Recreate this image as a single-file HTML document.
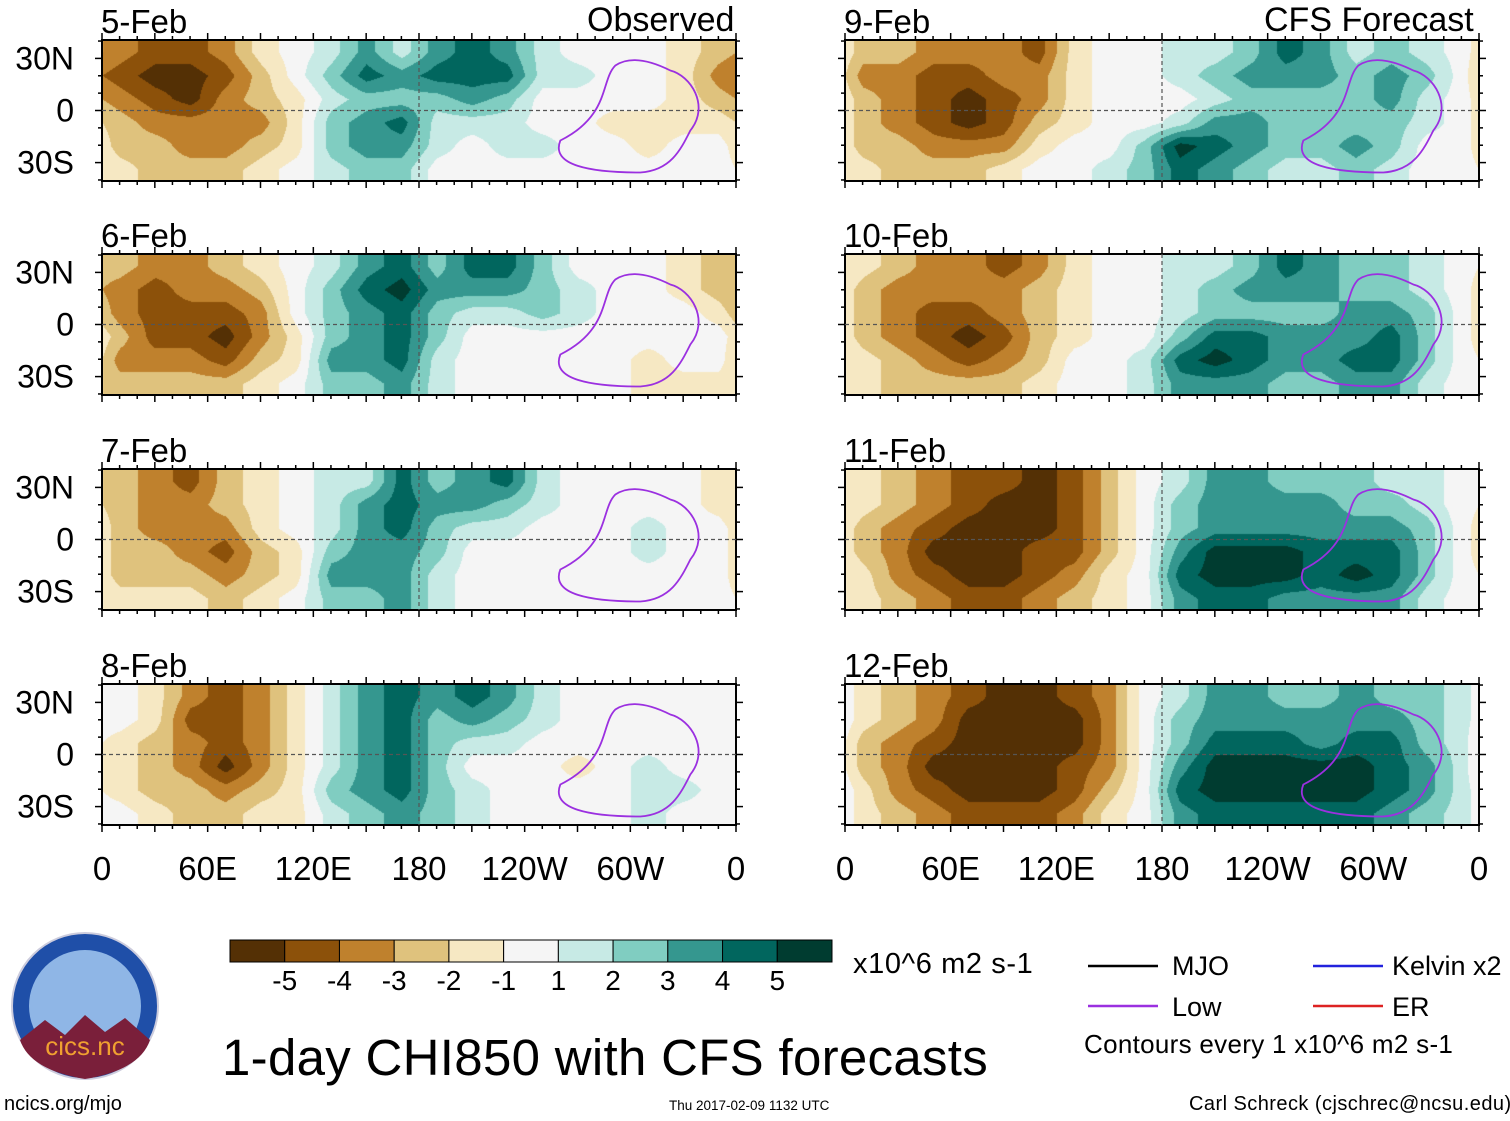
<!DOCTYPE html>
<html><head><meta charset="utf-8">
<style>
body{margin:0;background:#fff;width:1510px;height:1121px;overflow:hidden;position:relative;font-family:"Liberation Sans",sans-serif;}
.t{position:absolute;white-space:nowrap;color:#000;line-height:1;}
canvas{position:absolute;}
svg{position:absolute;left:0;top:0;}
</style></head><body>
<script>
const colors=["#543005","#8c510a","#bf812d","#dfc27d","#f6e8c3","#f5f5f5","#c7eae5","#80cdc1","#35978f","#01665e","#003c30"];
const cbLabels=["-5","-4","-3","-2","-1","1","2","3","4","5"];
const xTickLabels=["0","60E","120E","180","120W","60W","0"];
const yTickLabels=["30N","0","30S"];
const panelTitles=["5-Feb","6-Feb","7-Feb","8-Feb","9-Feb","10-Feb","11-Feb","12-Feb"];
const feb5=[[-3,-4,-4,-3,-1,0,1,3,1,3,4,3,1,0,0,0,-1,-2],[-4,-5,-5,-4,-2,0,2,4,3,4,4,4,1,1,0,0,-1,-3],[-3,-4,-5,-3,-2,-1,1,2,2,2,3,2,0,0,0,0,-1,-2],[-2,-3,-3,-3,-3,-1,2,3,4,1,1,1,0,0,-1,-1,-1,-1],[-2,-2,-3,-3,-2,-1,2,3,3,1,0,1,1,0,0,-1,0,0],[-1,-2,-2,-2,-1,0,1,2,2,0,0,0,0,0,0,0,0,0]];
const feb6=[[-2,-3,-3,-2,-1,0,1,3,4,2,4,4,2,0,0,0,-1,-2],[-3,-4,-3,-3,-2,0,2,4,5,3,3,3,2,1,0,0,-1,-2],[-3,-4,-4,-4,-3,0,2,3,4,2,1,1,2,1,0,0,0,-1],[-2,-4,-4,-5,-3,-1,2,3,4,2,0,0,0,0,0,0,0,0],[-3,-3,-3,-4,-2,-1,3,3,4,1,0,0,0,0,0,-1,0,0],[-2,-2,-2,-2,-1,0,2,2,3,1,0,0,0,0,0,-1,-1,-1]];
const feb7=[[-2,-3,-4,-2,-1,0,1,1,4,2,3,4,1,0,0,0,0,-1],[-2,-3,-3,-2,-1,0,1,3,4,3,3,2,1,0,0,0,0,-1],[-2,-3,-3,-3,-1,0,1,3,4,2,1,1,0,0,0,1,0,0],[-2,-2,-3,-4,-2,-1,2,3,3,2,0,0,0,0,0,1,0,0],[-2,-2,-2,-3,-2,-1,3,3,3,1,0,0,0,0,0,0,0,0],[-1,-1,-1,-2,-1,0,2,2,3,1,0,0,0,0,0,0,0,0]];
const feb8=[[0,-1,-3,-4,-3,-1,1,3,4,3,4,3,1,0,0,0,0,0],[0,-1,-4,-4,-3,-1,1,3,4,2,3,2,1,0,0,0,0,0],[-1,-2,-3,-4,-3,-1,1,3,4,2,1,1,0,0,0,0,0,0],[-1,-2,-3,-5,-3,-1,1,3,4,2,0,0,0,-1,0,1,0,0],[-1,-2,-2,-3,-2,-1,2,3,4,2,1,0,0,0,0,1,1,0],[0,-1,-2,-2,-1,-1,1,2,3,2,1,0,0,0,0,1,0,0]];
const feb9=[[-2,-2,-3,-3,-3,-4,-1,0,0,1,1,2,4,3,1,2,1,0],[-3,-3,-4,-4,-3,-3,-1,0,0,1,2,3,3,3,2,3,2,0],[-2,-3,-4,-5,-4,-3,-1,0,0,0,1,2,2,2,2,3,1,0],[-2,-3,-4,-5,-4,-2,-1,0,0,1,3,3,2,2,2,2,1,0],[-2,-2,-3,-3,-3,-1,0,0,2,5,4,3,2,2,3,2,0,0],[-1,-2,-2,-2,-1,0,0,1,2,4,3,2,1,1,2,1,0,0]];
const feb10=[[-1,-2,-3,-3,-4,-3,-1,0,0,1,1,2,4,3,2,2,1,0],[-2,-3,-3,-3,-3,-2,-1,0,0,1,2,3,3,3,2,2,1,0],[-2,-3,-4,-4,-3,-2,-1,0,0,1,2,2,2,2,3,3,2,0],[-2,-3,-4,-5,-4,-2,-1,0,0,2,4,4,3,3,3,4,2,0],[-1,-2,-3,-4,-3,-2,0,0,1,4,5,4,3,3,4,4,2,0],[-1,-2,-2,-2,-2,-1,0,0,1,3,3,3,2,2,3,3,1,0]];
const feb11=[[-1,-2,-3,-4,-4,-5,-4,-2,0,1,3,3,2,2,2,1,1,0],[-1,-2,-3,-4,-5,-5,-4,-2,0,2,3,3,3,3,2,2,1,0],[-2,-3,-4,-5,-5,-5,-4,-2,0,2,3,3,3,3,3,3,2,0],[-2,-3,-5,-5,-5,-4,-4,-2,0,3,5,5,5,4,4,4,2,0],[-1,-3,-4,-5,-5,-4,-3,-1,0,4,5,5,5,4,5,4,2,0],[-1,-2,-3,-4,-4,-3,-2,-1,0,3,4,4,3,3,3,3,1,0]];
const feb12=[[-1,-2,-3,-4,-5,-5,-4,-3,0,1,3,3,2,2,3,2,2,1],[-1,-2,-3,-5,-5,-5,-5,-3,0,2,3,3,3,3,3,3,2,1],[-2,-3,-4,-5,-5,-5,-5,-3,0,2,4,4,4,3,4,4,2,1],[-2,-3,-5,-5,-5,-5,-4,-3,0,3,5,5,5,5,5,4,3,1],[-1,-3,-4,-5,-5,-5,-4,-2,0,4,5,5,5,5,5,4,3,1],[-1,-2,-3,-4,-4,-4,-3,-1,0,3,4,4,4,4,4,3,2,1]];
const panelData=[feb5,feb6,feb7,feb8,feb9,feb10,feb11,feb12];
</script>
<svg id="ov" width="1510" height="1121"></svg>
<div class="t" style="left:587px;top:3px;font-size:34px">Observed</div>
<div class="t" style="left:1264px;top:3px;font-size:34px">CFS Forecast</div>
<div class="t" style="left:853px;top:950px;font-size:29px;letter-spacing:0.6px">x10^6 m2 s-1</div>
<div class="t" style="left:222px;top:1032px;font-size:51px;letter-spacing:0.3px">1-day CHI850 with CFS forecasts</div>
<div class="t" style="left:1172px;top:953px;font-size:27px">MJO</div>
<div class="t" style="left:1172px;top:994px;font-size:27px">Low</div>
<div class="t" style="left:1392px;top:953px;font-size:27px">Kelvin x2</div>
<div class="t" style="left:1392px;top:994px;font-size:27px">ER</div>
<div class="t" style="left:1084px;top:1031px;font-size:26px;letter-spacing:0.3px">Contours every 1 x10^6 m2 s-1</div>
<div class="t" style="left:4px;top:1094px;font-size:20px">ncics.org/mjo</div>
<div class="t" style="left:669px;top:1099px;font-size:13.5px">Thu 2017-02-09 1132 UTC</div>
<div class="t" style="left:1189px;top:1094px;font-size:20px;letter-spacing:0.45px">Carl Schreck (cjschrec@ncsu.edu)</div>
<script>
const NS="http://www.w3.org/2000/svg";
const ov=document.getElementById('ov');
function mk(tag,attrs,parent){const e=document.createElementNS(NS,tag);for(const k in attrs)e.setAttribute(k,attrs[k]);(parent||ov).appendChild(e);return e;}
const panelLeft=[102,845], panelW=634, panelTops=[40,254,469,684], panelH=141;
function xScale(p,lon){return panelLeft[p]+lon/360*panelW;}
function yScale(top,lat){return top+(40.6-lat)/81.2*panelH;}
function hex(c){return [parseInt(c.substr(1,2),16),parseInt(c.substr(3,2),16),parseInt(c.substr(5,2),16)];}
const rgb=colors.map(hex);
panelData.forEach((data,i)=>{
  const col=i<4?0:1, row=i%4, L=panelLeft[col], T=panelTops[row];
  const cv=document.createElement('canvas');
  cv.width=panelW;cv.height=panelH;cv.style.left=L+'px';cv.style.top=T+'px';
  
  
  document.body.insertBefore(cv,ov);
  const ctx=cv.getContext('2d'),img=ctx.createImageData(panelW,panelH);
  const nr=data.length,nc=data[0].length;
  for(let y=0;y<panelH;y++){
    const fy=Math.min(nr-1,Math.max(0,y/panelH*nr-0.5));const y0=Math.floor(fy),y1=Math.min(nr-1,y0+1),ty=fy-y0;
    for(let x=0;x<panelW;x++){
      let fx=x/panelW*nc-0.5;if(fx<0)fx+=nc;const x0=Math.floor(fx)%nc,x1=(x0+1)%nc,tx=fx-Math.floor(fx);
      const v=(data[y0][x0]*(1-tx)+data[y0][x1]*tx)*(1-ty)+(data[y1][x0]*(1-tx)+data[y1][x1]*tx)*ty;
      let k=Math.round(v);k=Math.max(-5,Math.min(5,k));const c=rgb[k+5];const o=(y*panelW+x)*4;
      img.data[o]=c[0];img.data[o+1]=c[1];img.data[o+2]=c[2];img.data[o+3]=255;
    }
  }
  ctx.putImageData(img,0,0);
  const g=mk('g',{});
  
  
  mk('rect',{x:L,y:T,width:panelW,height:panelH,fill:'none',stroke:'#000','stroke-width':2},g);
  mk('line',{x1:L,x2:L+panelW,y1:yScale(T,0),y2:yScale(T,0),stroke:'#555','stroke-dasharray':'4,3','stroke-width':1.2},g);
  mk('line',{x1:xScale(col,180),x2:xScale(col,180),y1:T,y2:T+panelH,stroke:'#555','stroke-dasharray':'4,3','stroke-width':1.2},g);
  const lx=xScale(col,300),ly=yScale(T,0);
  mk('path',{d:`M${lx-70},${ly+30} C${lx-80},${ly+55} ${lx-40},${ly+62} ${lx+10},${ly+62} C${lx+40},${ly+60} ${lx+50},${ly+40} ${lx+60},${ly+20} C${lx+80},${ly-5} ${lx+60},${ly-35} ${lx+40},${ly-40} C${lx+20},${ly-50} ${lx},${ly-55} ${lx-15},${ly-45} C${lx-30},${ly-30} ${lx-20},${ly+5} ${lx-70},${ly+30}Z`,fill:'none',stroke:'#9b30e0','stroke-width':1.8},g);
  for(let lon=0;lon<=360;lon+=10){const x=xScale(col,lon),len=lon%30==0?7:4;
    mk('line',{x1:x,x2:x,y1:T,y2:T-len,stroke:'#000','stroke-width':1.5},g);
    mk('line',{x1:x,x2:x,y1:T+panelH,y2:T+panelH+len,stroke:'#000','stroke-width':1.5},g);}
  for(let lat=-40;lat<=40;lat+=10){const y=yScale(T,lat),len=lat%30==0?7:4;
    mk('line',{x1:L,x2:L-len,y1:y,y2:y,stroke:'#000','stroke-width':1.5},g);
    mk('line',{x1:L+panelW,x2:L+panelW+len,y1:y,y2:y,stroke:'#000','stroke-width':1.5},g);}
  const tt=mk('text',{x:L-1,y:T-7,'font-size':33,'font-family':'Liberation Sans'},g);tt.textContent=panelTitles[i];
  
  
  if(col==0){[30,0,-30].forEach((lat,j)=>{const t=mk('text',{x:74,y:yScale(T,lat)+11,'font-size':32,'text-anchor':'end','font-family':'Liberation Sans'},g);t.textContent=yTickLabels[j];
    
    });}
});
[0,1].forEach(col=>{xTickLabels.forEach((s,j)=>{const t=mk('text',{x:xScale(col,j*60),y:880,'font-size':33,'text-anchor':'middle','font-family':'Liberation Sans'});t.textContent=s;
  
  });});
const cbX=230,cbW=602,cbY=940,cbH=22,bw=cbW/colors.length;
colors.forEach((c,j)=>{const r=mk('rect',{x:cbX+j*bw,y:cbY,width:bw,height:cbH,fill:c,stroke:'#000','stroke-width':1});
  
  });
cbLabels.forEach((s,j)=>{const t=mk('text',{x:cbX+(j+1)*bw,y:990,'font-size':28,'text-anchor':'middle','font-family':'Liberation Sans'});t.textContent=s;
  
  });
[[1088,966,'#000'],[1088,1006,'#9b30e0'],[1313,966,'#2222dd'],[1313,1006,'#dd2222']].forEach(a=>{const l=mk('line',{x1:a[0],x2:a[0]+70,y1:a[1],y2:a[1],stroke:a[2],'stroke-width':2.5});
  
  });
const lg=mk('g',{});


mk('circle',{cx:85,cy:1006,r:73,fill:'#1f4fa8',stroke:'#ccd','stroke-width':2},lg);
mk('circle',{cx:85,cy:1006,r:56,fill:'#8fb6e6'},lg);
mk('path',{d:'M20,1040 L45,1020 L65,1035 L85,1015 L105,1032 L125,1018 L150,1040 Q140,1070 85,1079 Q30,1070 20,1040Z',fill:'#7a1f3a'},lg);
const lt=mk('text',{x:85,y:1055,'font-size':26,'text-anchor':'middle',fill:'#f0a030','font-family':'Liberation Sans'},lg);lt.textContent='cics.nc';
</script>
</body></html>
